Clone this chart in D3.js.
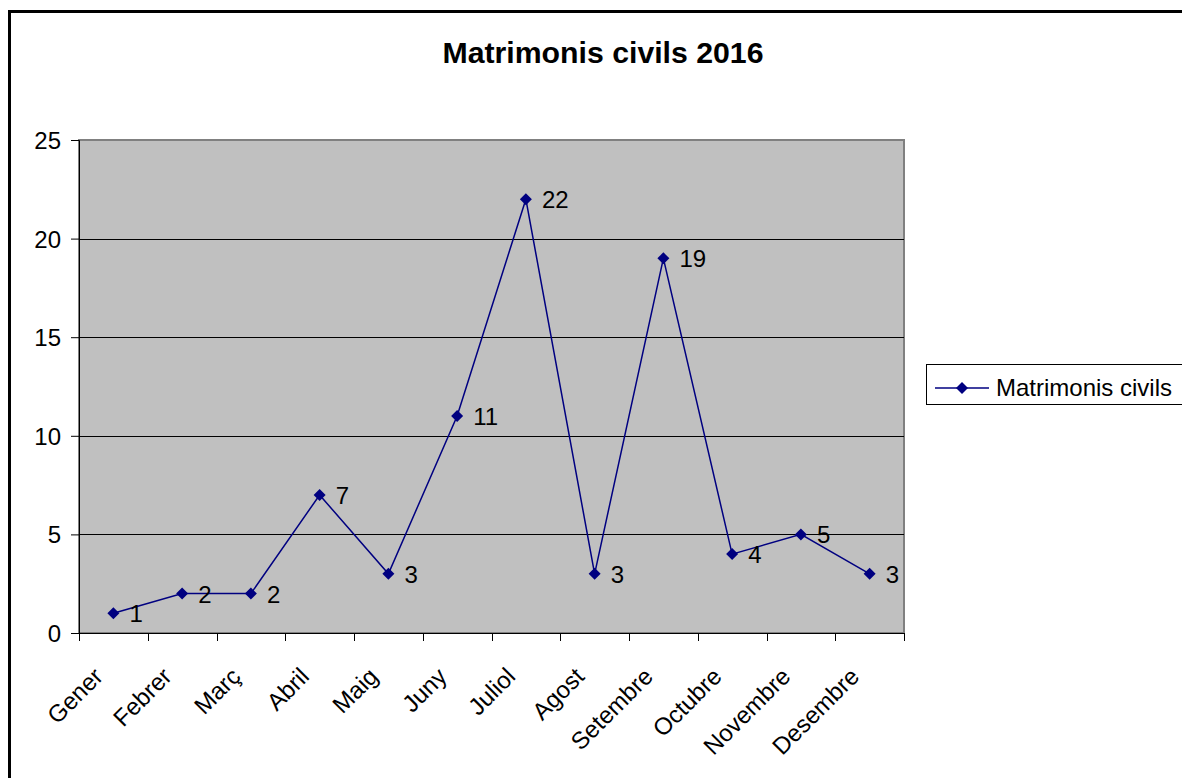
<!DOCTYPE html>
<html><head><meta charset="utf-8">
<script src="https://cdn.jsdelivr.net/npm/d3@7"></script>
<style>body{margin:0;background:#fff;} svg{display:block;font-family:Arial,"Liberation Sans",sans-serif;}</style>
</head><body>
<svg id="c" width="1182" height="778"></svg>
<script>
const months = ["Gener","Febrer","Març","Abril","Maig","Juny","Juliol","Agost","Setembre","Octubre","Novembre","Desembre"];
const values = [1,2,2,7,3,11,22,3,19,4,5,3];
const yTicks = [0,5,10,15,20,25];
const title = "Matrimonis civils 2016";
const seriesName = "Matrimonis civils";

const svg = d3.select("#c");
const L=79, R=904, T=140, B=633;
const navy="#000080";
const FS=24;

// outer frame
svg.append("rect").attr("x",9.5).attr("y",11.5).attr("width",1200).attr("height",800)
  .attr("fill","#fff").attr("stroke","#000").attr("stroke-width",3);

svg.append("text").attr("x",603).attr("y",63).attr("text-anchor","middle")
  .attr("font-size",29).attr("font-weight","bold")
  .attr("textLength",321).attr("lengthAdjust","spacingAndGlyphs").text(title);

const x = d3.scaleBand().domain(months).range([L,R]).padding(0);
const y = d3.scaleLinear().domain([0,25]).range([B,T]);

svg.append("rect").attr("x",L).attr("y",T).attr("width",R-L).attr("height",B-T)
  .attr("fill","#C0C0C0").attr("stroke","#808080").attr("stroke-width",2);

// gridlines
svg.append("g").selectAll("line").data(yTicks.filter(d=>d>0&&d<25)).join("line")
  .attr("x1",L).attr("x2",R).attr("y1",d=>Math.round(y(d))+0.5).attr("y2",d=>Math.round(y(d))+0.5)
  .attr("stroke","#000").attr("stroke-width",1);

// y axis
const ya = svg.append("g").attr("transform",`translate(${L},0)`)
  .call(d3.axisLeft(y).tickValues(yTicks).tickSize(8).tickPadding(10));
ya.select(".domain").attr("stroke","#000");
ya.selectAll("line").attr("stroke","#000");
ya.selectAll("text").attr("font-size",FS).attr("font-family","Arial,'Liberation Sans',sans-serif").attr("fill","#000").attr("dy","0.35em");

// x axis
const xa = svg.append("g").attr("transform",`translate(0,${B})`)
  .call(d3.axisBottom(x).tickSize(0).tickFormat(""));
xa.select(".domain").attr("stroke","#000");
const bounds = months.map(m=>x(m)).concat([R]);
svg.append("g").selectAll("line").data(bounds).join("line")
  .attr("x1",d=>Math.round(d)+0.5).attr("x2",d=>Math.round(d)+0.5).attr("y1",B).attr("y2",B+8)
  .attr("stroke","#000");

svg.append("g").selectAll("text").data(months).join("text")
  .attr("transform",d=>`translate(${x(d)+x.bandwidth()/2-9},${B+45}) rotate(-45)`)
  .attr("text-anchor","end").attr("font-size",FS).text(d=>d);

// line
const cx = d=>x(d)+x.bandwidth()/2;
svg.append("path").datum(values)
  .attr("d",d3.line().x((d,i)=>cx(months[i])).y(d=>y(d)))
  .attr("fill","none").attr("stroke",navy).attr("stroke-width",1.5);

const diamond = "M0,-6L6,0L0,6L-6,0Z";
svg.append("g").selectAll("path").data(values).join("path")
  .attr("transform",(d,i)=>`translate(${cx(months[i])},${y(d)})`)
  .attr("d",diamond).attr("fill",navy);

svg.append("g").selectAll("text").data(values).join("text")
  .attr("x",(d,i)=>cx(months[i])+16).attr("y",d=>y(d)+9)
  .attr("font-size",FS).text(d=>d);

// legend
svg.append("rect").attr("x",926.5).attr("y",364.5).attr("width",300).attr("height",40)
  .attr("fill","#fff").attr("stroke","#000").attr("stroke-width",1);
svg.append("line").attr("x1",935).attr("x2",989).attr("y1",388).attr("y2",388)
  .attr("stroke",navy).attr("stroke-width",1.5);
svg.append("path").attr("transform","translate(962,388)").attr("d",diamond).attr("fill",navy);
svg.append("text").attr("x",996).attr("y",396).attr("font-size",FS).text(seriesName);
</script>
</body></html>
